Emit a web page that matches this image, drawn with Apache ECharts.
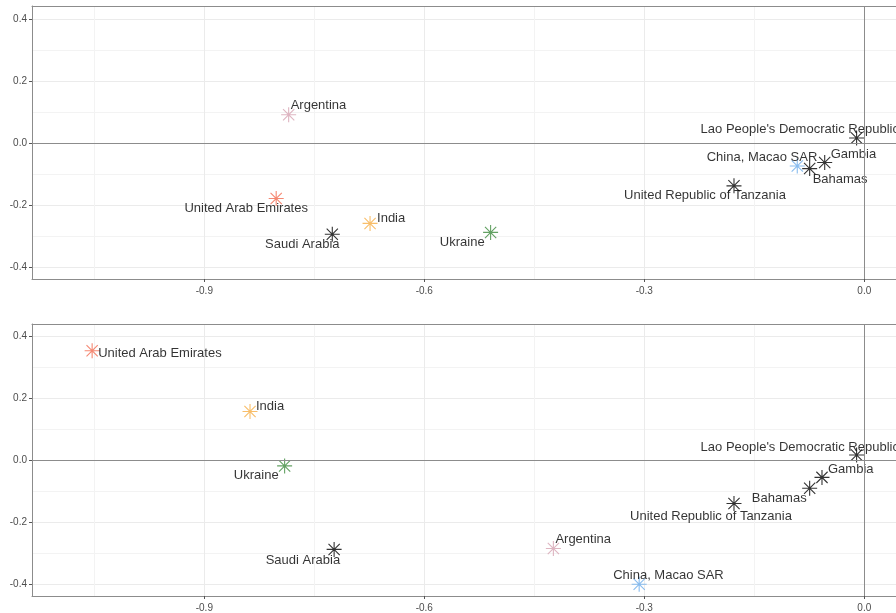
<!DOCTYPE html>
<html>
<head>
<meta charset="utf-8">
<script src="https://cdn.jsdelivr.net/npm/echarts@6/dist/echarts.min.js"></script>
<style>
  html, body { margin: 0; padding: 0; background: #fff; }
  #chart { width: 896px; height: 613px; }
</style>
</head>
<body>
<div id="chart"></div>
<script>
// dati
const countries = ['Argentina', 'United Arab Emirates', 'India', 'Saudi Arabia', 'Ukraine',
  "Lao People's Democratic Republic", 'China, Macao SAR', 'Bahamas', 'Gambia', 'United Republic of Tanzania'];
const topX = [-0.785, -0.802, -0.674, -0.7255, -0.5096, -0.0105, -0.0914, -0.0745, -0.054, -0.1777];
const topY = [0.092, -0.178, -0.258, -0.293, -0.287, 0.017, -0.073, -0.0815, -0.062, -0.137];
const bottomX = [-0.424, -1.053, -0.8377, -0.723, -0.7905, -0.0105, -0.307, -0.0745, -0.0577, -0.1777];
const bottomY = [-0.285, 0.352, 0.156, -0.288, -0.019, 0.016, -0.400, -0.091, -0.056, -0.14];
const xTicks = [-0.9, -0.6, -0.3, 0.0];
const xMinor = [-1.05, -0.75, -0.45, -0.15];
const yTicks = [-0.4, -0.2, 0.0, 0.2, 0.4];
const yMinor = [-0.3, -0.1, 0.1, 0.3];

// colori dei punti
const pointColors = {
  'Argentina': '#D6A3B1',
  'United Arab Emirates': '#F26A4F',
  'India': '#F6AE45',
  'Ukraine': '#3C8A3C',
  'China, Macao SAR': '#6DACEB'
};

// posizione etichette: [dx, dy, align]
const labelTop = {
  'Argentina': [2, -9, 'left'],
  'United Arab Emirates': [-30, 10, 'center'],
  'India': [7, -5, 'left'],
  'Saudi Arabia': [-30, 10, 'center'],
  'Ukraine': [-6, 10, 'right'],
  "Lao People's Democratic Republic": [-156, -9, 'left'],
  'China, Macao SAR': [20, -9, 'right'],
  'Bahamas': [3, 11, 'left'],
  'Gambia': [6, -8, 'left'],
  'United Republic of Tanzania': [-29, 10, 'center']
};
const labelBottom = {
  'Argentina': [2, -9, 'left'],
  'United Arab Emirates': [6, 3, 'left'],
  'India': [6, -5, 'left'],
  'Saudi Arabia': [6, 11, 'right'],
  'Ukraine': [-6, 10, 'right'],
  "Lao People's Democratic Republic": [-156, -8, 'left'],
  'China, Macao SAR': [-26, -9, 'left'],
  'Bahamas': [-3, 10, 'right'],
  'Gambia': [6, -8, 'left'],
  'United Republic of Tanzania': [-23, 13, 'center']
};

// il pannello continua oltre il bordo destro: si taglia alla larghezza della pagina
const gridLeft = 32, gridWidth = 864, pxPerUnit = 733.3;
const xMin = -1.135, xMax = xMin + gridWidth / pxPerUnit;
const fontFam = "'Liberation Sans', Arial, sans-serif";
const frameColor = '#8c8c8c';
const star = 'path://M0,-10L0,10M-10,0L10,0M-7.5,-7.5L7.5,7.5M-7.5,7.5L7.5,-7.5';

function makeAxesX(gridIndex) {
  return [
    {
      type: 'value', gridIndex: gridIndex, position: 'bottom', min: xMin, max: xMax,
      axisLine: { show: true, onZero: false, lineStyle: { color: frameColor, width: 1 } },
      axisTick: { show: true, customValues: xTicks, length: 3, lineStyle: { color: '#555' } },
      axisLabel: { customValues: xTicks, color: '#4d4d4d', fontSize: 10, margin: 7, fontFamily: fontFam,
        formatter: v => v.toFixed(1) },
      splitLine: { show: true, lineStyle: { color: '#ebebeb', width: 1 } }
    },
    {
      type: 'value', gridIndex: gridIndex, position: 'top', min: xMin, max: xMax,
      axisLine: { show: true, onZero: false, lineStyle: { color: frameColor, width: 1 } },
      axisTick: { show: false, customValues: xMinor },
      axisLabel: { show: false, customValues: xMinor },
      splitLine: { show: true, lineStyle: { color: '#f3f3f3', width: 1 } }
    }
  ];
}

function makeAxesY(gridIndex, yMin, yMax) {
  return [
    {
      type: 'value', gridIndex: gridIndex, position: 'left', min: yMin, max: yMax,
      axisLine: { show: true, onZero: false, lineStyle: { color: frameColor, width: 1 } },
      axisTick: { show: true, customValues: yTicks, length: 3, lineStyle: { color: '#555' } },
      axisLabel: { customValues: yTicks, color: '#4d4d4d', fontSize: 10, margin: 5, fontFamily: fontFam,
        formatter: v => v.toFixed(1) },
      splitLine: { show: true, lineStyle: { color: '#ebebeb', width: 1 } }
    },
    {
      type: 'value', gridIndex: gridIndex, position: 'right', min: yMin, max: yMax,
      axisLine: { show: false, onZero: false },
      axisTick: { show: false, customValues: yMinor },
      axisLabel: { show: false, customValues: yMinor },
      splitLine: { show: true, lineStyle: { color: '#f3f3f3', width: 1 } }
    }
  ];
}

function makeSeries(xs, ys, place, axisIndex) {
  const data = countries.map((c, i) => {
    const col = pointColors[c] || '#000000';
    const p = place[c];
    return {
      name: c,
      value: [xs[i], ys[i]],
      itemStyle: { color: 'none', borderColor: col, borderWidth: 1.1 },
      label: { offset: [p[0], p[1]], align: p[2] }
    };
  });
  return {
    type: 'scatter',
    xAxisIndex: axisIndex,
    yAxisIndex: axisIndex,
    symbol: star,
    symbolSize: 15,
    data: data,
    label: {
      show: true, position: 'inside', verticalAlign: 'middle',
      formatter: p => p.name, color: '#000000', textBorderWidth: 0, fontSize: 13, fontFamily: fontFam
    },
    markLine: {
      silent: true, symbol: 'none', animation: false,
      label: { show: false },
      lineStyle: { color: frameColor, type: 'solid', width: 1 },
      data: [{ xAxis: 0 }, { yAxis: 0 }]
    },
    emphasis: { disabled: true },
    z: 3
  };
}

var chart = echarts.init(document.getElementById('chart'));
var option = {
  animation: false,
  backgroundColor: '#ffffff',
  grid: [
    { left: gridLeft, top: 6, width: gridWidth, height: 273 },
    { left: gridLeft, top: 324, width: gridWidth, height: 272 }
  ],
  xAxis: makeAxesX(0).concat(makeAxesX(1)),
  yAxis: makeAxesY(0, -0.437, 0.442).concat(makeAxesY(1, -0.438, 0.438)),
  series: [
    makeSeries(topX, topY, labelTop, 0),
    makeSeries(bottomX, bottomY, labelBottom, 2)
  ]
};
chart.setOption(option);
</script>
</body>
</html>
